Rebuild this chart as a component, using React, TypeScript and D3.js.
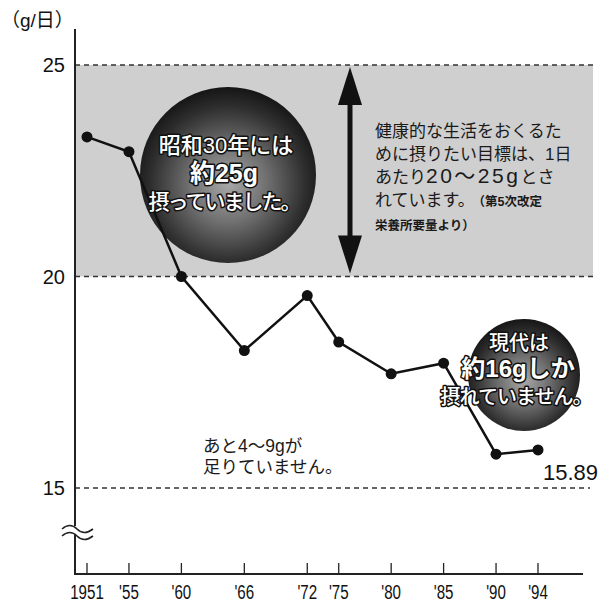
import * as d3 from "d3";

const years = [1951, 1955, 1960, 1966, 1972, 1975, 1980, 1985, 1990, 1994];
const yearLabels = ["1951", "'55", "'60", "'66", "'72", "'75", "'80", "'85", "'90", "'94"];
const intake = [23.3, 22.95, 20.0, 18.25, 19.55, 18.45, 17.7, 17.95, 15.8, 15.9];
const yTicks = [25, 20, 15];
const targetBand = [20, 25];
const lastValueLabel = "15.89";

const W = 603;
const H = 607;
const axisX = 75;
const axisBottom = 574;

const LATIN = "'Liberation Sans', Arial, 'Noto Sans CJK JP', sans-serif";
const JP = "'Liberation Sans', 'Noto Sans CJK JP', sans-serif";

export default function App() {
  const x = d3.scaleLinear().domain([1951, 1994]).range([87, 538]);
  const y = d3.scaleLinear().domain([15, 25]).range([488, 65]);

  const line = d3
    .line<number>()
    .x((_, i) => x(years[i]))
    .y((d) => y(d));

  const bandTop = y(targetBand[1]);
  const bandBottom = y(targetBand[0]);

  // white text with black outline, as in the bubbles
  const outlined = {
    fill: "#fff",
    stroke: "#111",
    strokeWidth: 3,
    paintOrder: "stroke",
    strokeLinejoin: "round" as const,
    fontFamily: JP,
    textAnchor: "middle" as const,
  };

  const arrowX = 350;
  const arrowTop = bandTop + 2;
  const arrowBot = bandBottom - 3;

  return (
    <svg
      width={W}
      height={H}
      style={{ position: "absolute", left: 0, top: 0, background: "#fff" }}
    >
      <defs>
        <radialGradient id="ball" cx="50%" cy="55%" r="55%">
          <stop offset="0%" stopColor="#a8a8a8" />
          <stop offset="40%" stopColor="#707070" />
          <stop offset="80%" stopColor="#2e2e2e" />
          <stop offset="100%" stopColor="#151515" />
        </radialGradient>
      </defs>

      {/* target band 20-25 g */}
      <rect
        x={axisX}
        y={bandTop}
        width={593 - axisX}
        height={bandBottom - bandTop}
        fill="#cfcfcf"
      />
      {yTicks.map((t) => (
        <line
          key={t}
          x1={axisX}
          x2={t === 15 ? 590 : 593}
          y1={y(t)}
          y2={y(t)}
          stroke="#333"
          strokeWidth={1.3}
          strokeDasharray="5,4"
        />
      ))}

      {/* y axis */}
      <line x1={axisX} x2={axisX} y1={29} y2={axisBottom} stroke="#222" strokeWidth={2} />
      <rect x={axisX - 4} y={526} width={8} height={9} fill="#fff" />
      <path d="M62,529 q8,-7 15,0 t16,0" fill="none" stroke="#222" strokeWidth={1.6} />
      <path d="M62,536 q8,-7 15,0 t16,0" fill="none" stroke="#222" strokeWidth={1.6} />
      {yTicks.map((t) => (
        <text
          key={t}
          x={65}
          y={y(t) + 7}
          textAnchor="end"
          fontSize={20}
          fontFamily={LATIN}
          fill="#111"
        >
          {t}
        </text>
      ))}
      <text x={1} y={27} fontSize={19} fontFamily={JP} fill="#111">
        （g/日）
      </text>

      {/* x axis */}
      <line x1={axisX - 1} x2={583} y1={axisBottom} y2={axisBottom} stroke="#222" strokeWidth={2} />
      {years.map((yr, i) => (
        <g key={yr}>
          <line
            x1={x(yr)}
            x2={x(yr)}
            y1={axisBottom}
            y2={axisBottom - 11}
            stroke="#222"
            strokeWidth={1.3}
          />
          <text
            transform={`translate(${x(yr)},${599}) scale(0.72,1)`}
            textAnchor="middle"
            fontSize={21}
            fontFamily={LATIN}
            fill="#111"
          >
            {yearLabels[i]}
          </text>
        </g>
      ))}

      {/* bubbles */}
      <circle cx={228} cy={175} r={88} fill="url(#ball)" />
      <circle cx={524} cy={375} r={56} fill="url(#ball)" />

      {/* double arrow */}
      <line
        x1={arrowX}
        x2={arrowX}
        y1={arrowTop + 30}
        y2={arrowBot - 30}
        stroke="#111"
        strokeWidth={5}
      />
      <path
        d={`M${arrowX},${arrowTop} L${arrowX + 12},${arrowTop + 38} L${arrowX - 12},${arrowTop + 38} Z`}
        fill="#111"
      />
      <path
        d={`M${arrowX},${arrowBot} L${arrowX + 12},${arrowBot - 38} L${arrowX - 12},${arrowBot - 38} Z`}
        fill="#111"
      />

      {/* data line */}
      <path d={line(intake) ?? ""} fill="none" stroke="#111" strokeWidth={2.5} />
      {intake.map((v, i) => (
        <circle key={years[i]} cx={x(years[i])} cy={y(v)} r={5.5} fill="#111" />
      ))}

      {/* bubble texts */}
      <g {...outlined}>
        <text x={226} y={153} fontSize={22} fontWeight={500}>
          昭和30年には
        </text>
        <text x={224} y={182} fontSize={25} fontWeight={700}>
          約25g
        </text>
        <text x={224} y={209} fontSize={21} fontWeight={500} letterSpacing={-2}>
          摂っていました。
        </text>
        <text x={519} y={350} fontSize={20} fontWeight={500}>
          現代は
        </text>
        <text x={518} y={377} fontSize={24} fontWeight={700}>
          約16gしか
        </text>
        <text x={516} y={404} fontSize={20} fontWeight={500} letterSpacing={-1}>
          摂れていません。
        </text>
      </g>

      {/* explanation block */}
      <g fontFamily={JP} fill="#1a1a1a" fontSize={17}>
        <text x={375} y={137}>健康的な生活をおくるた</text>
        <text x={375} y={160}>めに摂りたい目標は、1日</text>
        <text x={375} y={183}>
          あたり
          <tspan fontSize={21} letterSpacing={2.5}>
            20〜25g
          </tspan>
          とさ
        </text>
        <text x={375} y={206}>
          れています。
          <tspan fontSize={12.5} fontWeight={700} dx={4}>
            （第5次改定
          </tspan>
        </text>
        <text x={375} y={230} fontSize={12.5} fontWeight={700}>
          栄養所要量より）
        </text>
      </g>

      <g fontFamily={JP} fill="#1a1a1a" fontSize={17.5}>
        <text x={203} y={452}>あと4〜9gが</text>
        <text x={203} y={473}>足りていません。</text>
      </g>

      <text x={543} y={480} fontSize={22} fontFamily={LATIN} fill="#111">
        {lastValueLabel}
      </text>
    </svg>
  );
}
